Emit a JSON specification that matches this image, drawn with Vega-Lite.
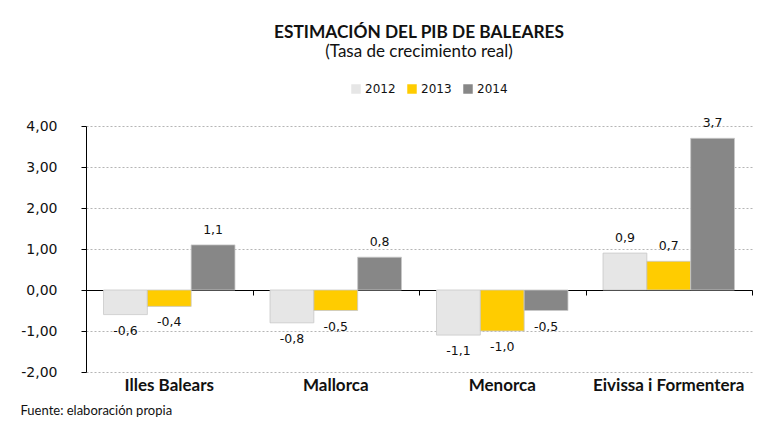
{
  "$schema": "https://vega.github.io/schema/vega-lite/v6.json",
  "width": 666,
  "height": 246,
  "autosize": {"type": "none"},
  "padding": {"left": 86, "top": 126, "right": 23, "bottom": 60},
  "background": "white",
  "config": {
    "locale": {"number": {"decimal": ",", "thousands": ".", "grouping": [3], "currency": ["", " €"], "minus": "-"}},
    "view": {"stroke": null},
    "font": "DejaVu Sans"
  },
  "title": {
    "text": "ESTIMACIÓN DEL PIB DE BALEARES",
    "subtitle": "(Tasa de crecimiento real)",
    "font": "Lato",
    "fontSize": 17.3,
    "fontWeight": "bold",
    "color": "#111111",
    "subtitleFont": "Lato",
    "subtitleFontSize": 17,
    "subtitleColor": "#111111",
    "subtitlePadding": 3,
    "anchor": "middle",
    "frame": "group",
    "offset": 23
  },
  "data": {
    "values": [
      {"region": "Illes Balears", "year": "2012", "v": -0.6},
      {"region": "Illes Balears", "year": "2013", "v": -0.4},
      {"region": "Illes Balears", "year": "2014", "v": 1.1},
      {"region": "Mallorca", "year": "2012", "v": -0.8},
      {"region": "Mallorca", "year": "2013", "v": -0.5},
      {"region": "Mallorca", "year": "2014", "v": 0.8},
      {"region": "Menorca", "year": "2012", "v": -1.1},
      {"region": "Menorca", "year": "2013", "v": -1.0},
      {"region": "Menorca", "year": "2014", "v": -0.5},
      {"region": "Eivissa i Formentera", "year": "2012", "v": 0.9},
      {"region": "Eivissa i Formentera", "year": "2013", "v": 0.7},
      {"region": "Eivissa i Formentera", "year": "2014", "v": 3.7}
    ]
  },
  "encoding": {
    "x": {"field": "region", "type": "nominal", "sort": null,
      "scale": {"paddingInner": 0, "paddingOuter": 0}},
    "xOffset": {"field": "year", "type": "nominal",
      "scale": {"paddingInner": 0, "paddingOuter": 0.4}},
    "y": {"field": "v", "type": "quantitative",
      "scale": {"domain": [-2, 4], "nice": false, "zero": false},
      "axis": {
        "title": null,
        "values": [-2, -1, 0, 1, 2, 3, 4],
        "format": ".2f",
        "labelFont": "DejaVu Sans",
        "labelFontSize": 14,
        "labelColor": "#111111",
        "labelPadding": 24,
        "domainColor": "#000000",
        "tickColor": "#000000",
        "tickSize": 5,
        "grid": true,
        "gridColor": "#b5b5b5",
        "gridDash": [2, 2],
        "gridWidth": 1
      }}
  },
  "layer": [
    {
      "mark": {"type": "bar", "stroke": "#c8c8c8", "strokeWidth": 0.8},
      "encoding": {
        "x": {"field": "region", "type": "nominal", "sort": null,
          "axis": {
            "orient": "bottom",
            "title": "Fuente: elaboración propia",
            "titleFont": "Lato",
            "titleFontSize": 13,
            "titleFontWeight": "normal",
            "titleColor": "#111111",
            "titleAnchor": "start",
            "titleAlign": "left",
            "titleBaseline": "middle",
            "titleX": -66,
            "titleY": 38,
            "labelAngle": 0,
            "labelFont": "Lato",
            "labelFontSize": 17,
            "labelFontWeight": "bold",
            "labelColor": "#111111",
            "labelPadding": 5,
            "domain": false,
            "ticks": false,
            "grid": false
          }},
        "color": {"field": "year", "type": "nominal",
          "scale": {"domain": ["2012", "2013", "2014"], "range": ["#e6e6e6", "#ffcc00", "#878787"]},
          "legend": {
            "title": null,
            "orient": "none",
            "direction": "horizontal",
            "legendX": 264,
            "legendY": -43,
            "symbolType": "square",
            "symbolSize": 90,
            "symbolStrokeWidth": 0,
            "labelFont": "DejaVu Sans",
            "labelFontSize": 12,
            "labelColor": "#111111",
            "labelOffset": 3,
            "columnPadding": 10
          }}
      }
    },
    {
      "transform": [{"filter": "datum.v >= 0"}],
      "mark": {"type": "text", "dy": -15, "baseline": "middle", "font": "DejaVu Sans", "fontSize": 12.5, "color": "#111111"},
      "encoding": {
        "x": {"field": "region", "type": "nominal", "sort": null,
          "axis": {
            "orient": "bottom",
            "offset": -82,
            "title": null,
            "labels": false,
            "grid": false,
            "domain": true,
            "domainColor": "#000000",
            "domainWidth": 1.2,
            "ticks": true,
            "tickBand": "extent",
            "tickColor": "#000000",
            "tickSize": 5
          }},
        "text": {"field": "v", "type": "quantitative", "format": ".1f"}
      }
    },
    {
      "transform": [{"filter": "datum.v < 0"}],
      "mark": {"type": "text", "dy": 16, "baseline": "middle", "font": "DejaVu Sans", "fontSize": 12.5, "color": "#111111"},
      "encoding": {
        "x": {"field": "region", "type": "nominal", "sort": null, "axis": null},
        "text": {"field": "v", "type": "quantitative", "format": ".1f"}
      }
    }
  ],
  "resolve": {"axis": {"x": "independent"}}
}
